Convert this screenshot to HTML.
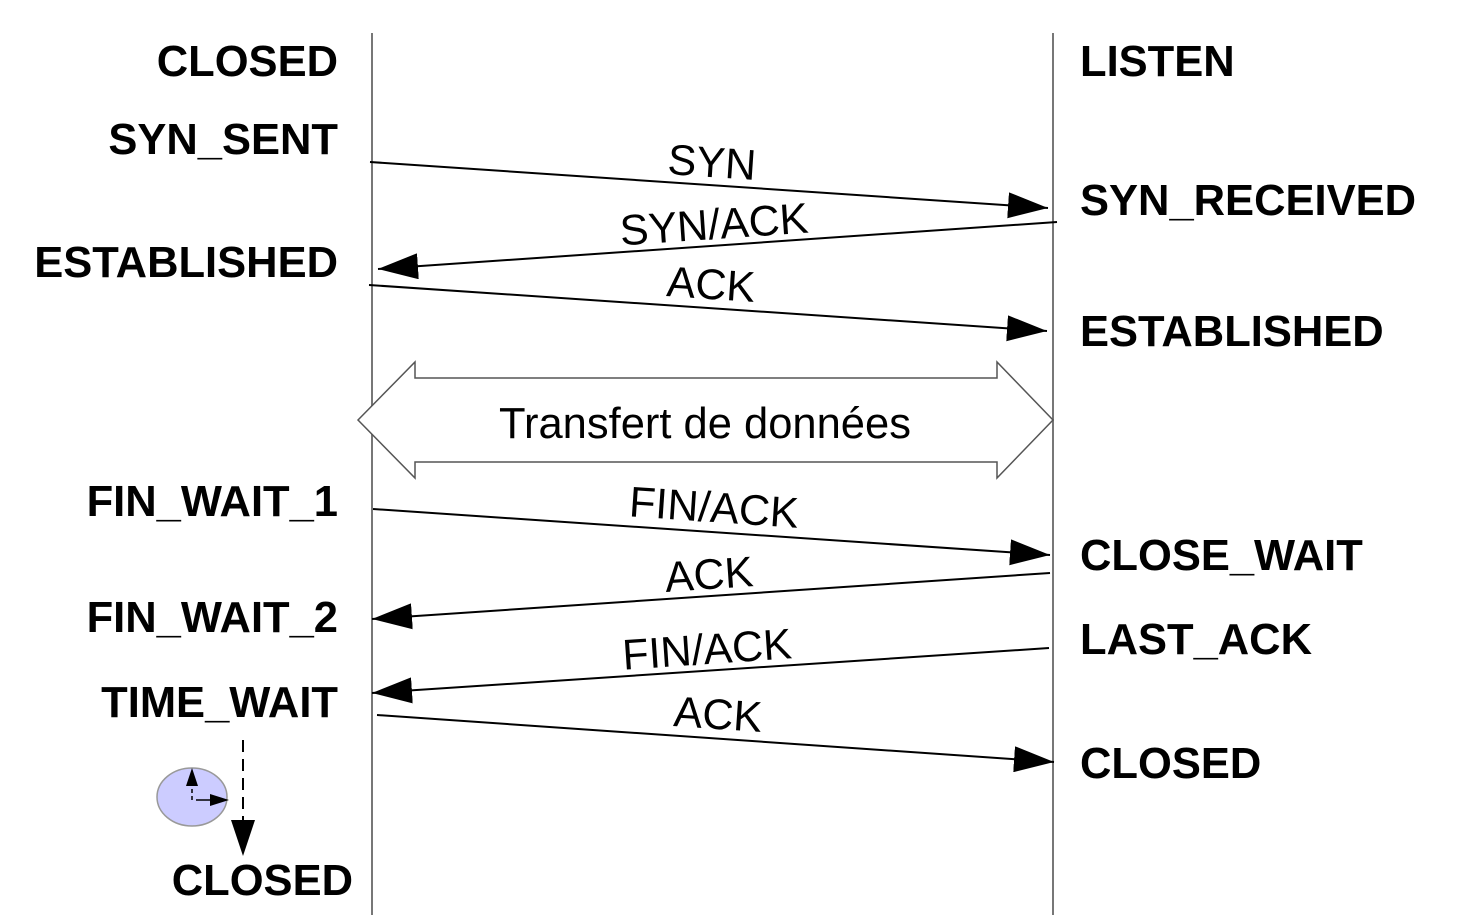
<!DOCTYPE html>
<html><head><meta charset="utf-8"><style>
html,body{margin:0;padding:0;background:#fff;width:1464px;height:915px;overflow:hidden}
svg{display:block}
.s{font-family:"Liberation Sans",sans-serif;font-weight:bold;font-size:43.5px;fill:#000}
.l{font-family:"Liberation Sans",sans-serif;font-size:43px;fill:#000}
</style></head><body>
<svg width="1464" height="915" viewBox="0 0 1464 915" xmlns="http://www.w3.org/2000/svg">
<defs>
<marker id="a" markerWidth="40" markerHeight="26" refX="40" refY="13" orient="auto" markerUnits="userSpaceOnUse">
<path d="M0,0 L40,13 L0,26 Z" fill="#000"/></marker>
</defs>
<line x1="372" y1="33" x2="372" y2="915" stroke="#777" stroke-width="2"/>
<line x1="1053" y1="33" x2="1053" y2="915" stroke="#777" stroke-width="2"/>

<g class="s">
<text x="338" y="76" text-anchor="end">CLOSED</text>
<text x="338" y="154" text-anchor="end">SYN_SENT</text>
<text x="338" y="277" text-anchor="end">ESTABLISHED</text>
<text x="338" y="516" text-anchor="end">FIN_WAIT_1</text>
<text x="338" y="632" text-anchor="end">FIN_WAIT_2</text>
<text x="338" y="717" text-anchor="end">TIME_WAIT</text>
<text x="353" y="895" text-anchor="end">CLOSED</text>
<text x="1080" y="76">LISTEN</text>
<text x="1080" y="215">SYN_RECEIVED</text>
<text x="1080" y="346">ESTABLISHED</text>
<text x="1080" y="570">CLOSE_WAIT</text>
<text x="1080" y="654">LAST_ACK</text>
<text x="1080" y="778">CLOSED</text>
</g>

<g stroke="#000" stroke-width="2" marker-end="url(#a)">
<line x1="370" y1="162" x2="1048" y2="208"/>
<line x1="1057" y1="222" x2="378" y2="269"/>
<line x1="369" y1="285" x2="1047" y2="331"/>
<line x1="373" y1="509" x2="1050" y2="555"/>
<line x1="1050" y1="573" x2="372" y2="619"/>
<line x1="1049" y1="648" x2="372" y2="693"/>
<line x1="377" y1="715" x2="1054" y2="762"/>
</g>

<g class="l">
<text transform="translate(711,177) rotate(3.9)" text-anchor="middle">SYN</text>
<text transform="translate(715,239) rotate(-3.9)" text-anchor="middle">SYN/ACK</text>
<text transform="translate(710,299) rotate(3.9)" text-anchor="middle">ACK</text>
<text transform="translate(713,522) rotate(3.9)" text-anchor="middle">FIN/ACK</text>
<text transform="translate(710,589) rotate(-3.9)" text-anchor="middle">ACK</text>
<text transform="translate(708,664) rotate(-3.9)" text-anchor="middle">FIN/ACK</text>
<text transform="translate(717,729) rotate(3.9)" text-anchor="middle">ACK</text>
</g>

<path d="M358,420 L415,362 L415,378 L997,378 L997,362 L1053,420 L997,478 L997,462 L415,462 L415,478 Z" fill="#fff" stroke="#555" stroke-width="1.5"/>
<text x="705" y="438" class="l" text-anchor="middle" style="font-size:43.5px">Transfert de données</text>

<ellipse cx="192" cy="797" rx="35" ry="29" fill="#ccccff" stroke="#999" stroke-width="1.5"/>
<line x1="192" y1="800" x2="192" y2="785" stroke="#000" stroke-width="1.5" stroke-dasharray="4,3"/>
<path d="M192,768 L186,786 L198,786 Z" fill="#000"/>
<line x1="196" y1="800" x2="212" y2="800" stroke="#000" stroke-width="1.5"/>
<path d="M229,800 L210,794 L210,806 Z" fill="#000"/>
<line x1="243" y1="740" x2="243" y2="822" stroke="#000" stroke-width="2" stroke-dasharray="12,7"/>
<path d="M231,820 L255,820 L243,856 Z" fill="#000"/>
</svg>
</body></html>
